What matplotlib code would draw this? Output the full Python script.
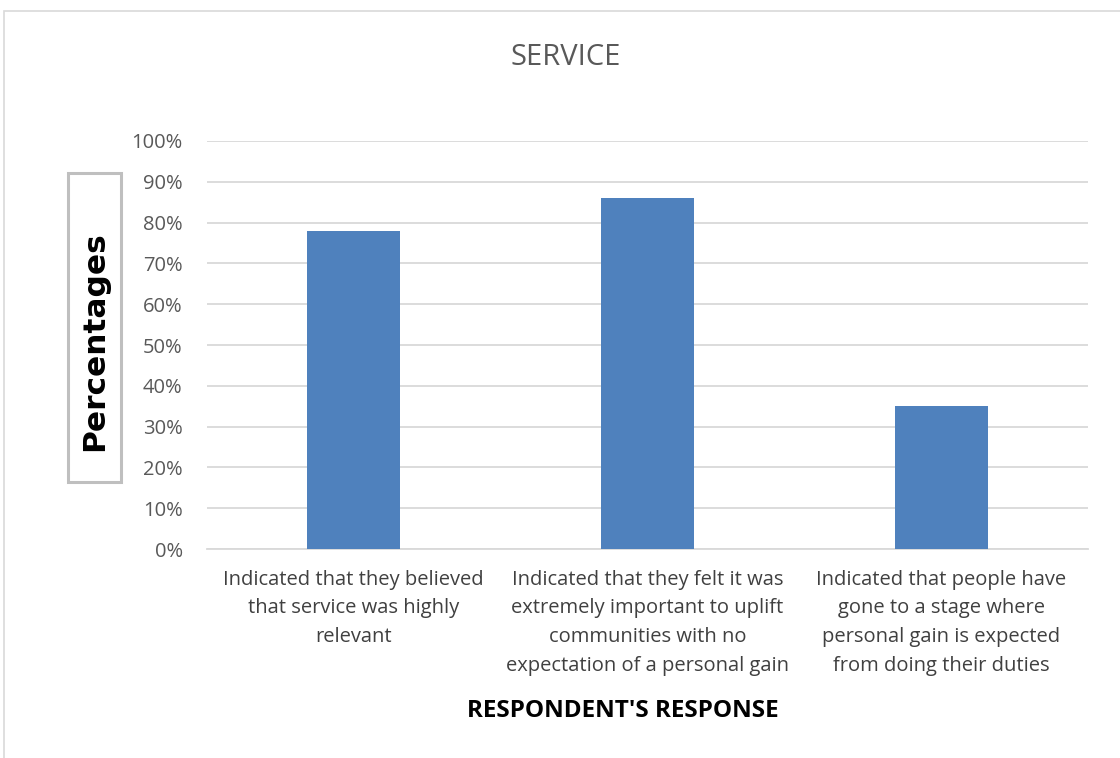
import matplotlib.pyplot as plt
from matplotlib.patches import Rectangle
from matplotlib.ticker import PercentFormatter

# Data
categories = [
    "Indicated that they believed\nthat service was highly\nrelevant",
    "Indicated that they felt it was\nextremely important to uplift\ncommunities with no\nexpectation of a personal gain",
    "Indicated that people have\ngone to a stage where\npersonal gain is expected\nfrom doing their duties",
]
values = [78, 86, 35]
yticks = list(range(0, 101, 10))

plt.rcParams['font.family'] = ['Open Sans', 'DejaVu Sans']

fig = plt.figure(figsize=(11.2, 7.58), dpi=100)
ax = fig.add_axes([0.1848, 0.2757, 0.7866, 0.5383])

x = range(len(values))
ax.bar(x, values, width=0.317, color='#4f81bd', zorder=3)

ax.set_xlim(-0.5, 2.5)
ax.set_ylim(0, 100)
ax.set_yticks(yticks)
ax.yaxis.set_major_formatter(PercentFormatter(decimals=0))
ax.grid(axis='y', color='#d9d9d9', linewidth=1.3, zorder=0)
ax.set_axisbelow(True)
for s in ['top', 'right', 'left']:
    ax.spines[s].set_visible(False)
ax.spines['bottom'].set_color('#d9d9d9')
ax.spines['bottom'].set_linewidth(1.3)
ax.tick_params(axis='both', length=0, colors='#595959')
ax.tick_params(axis='y', pad=17.5, labelsize=14.5)
ax.set_xticks(list(x))
ax.set_xticklabels(categories, fontsize=14.5, color='#404040', linespacing=1.57)
ax.tick_params(axis='x', pad=15)

# title and x label
fig.text(0.505, 0.924, "SERVICE", ha='center', va='center', fontsize=21, color='#595959')
fig.text(0.556, 0.062, "RESPONDENT'S RESPONSE", ha='center', va='center',
         fontsize=17.5, fontweight='bold', color='black',
         family=['Liberation Sans Narrow', 'Open Sans', 'DejaVu Sans'])

# boxed y label
fig.patches.append(Rectangle((68 / 1120, 1 - 482 / 758), 53 / 1120, 309 / 758,
                             transform=fig.transFigure, fill=False,
                             edgecolor='#bfbfbf', linewidth=2.2))
fig.text(94.5 / 1120, 1 - 341 / 758, "Percentages", rotation=90, ha='center', va='center',
         fontsize=22.5, fontweight='bold', family='DejaVu Sans', color='black')

# outer chart border
fig.patches.append(Rectangle((4 / 1120, -0.05), 1.2, 1 - 11 / 758 + 0.05,
                             transform=fig.transFigure, fill=False,
                             edgecolor='#d9d9d9', linewidth=1.2))

fig.savefig('out.png', dpi=100)
